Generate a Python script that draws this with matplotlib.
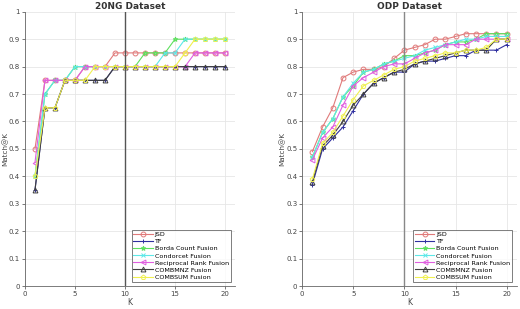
import numpy as np
from matplotlib import pyplot as plt

# K values shared by both panels
K = list(range(1, 21))

names = ['JSD', 'TF', 'Borda Count Fusion', 'Condorcet Fusion',
         'Reciprocal Rank Fusion', 'COMBMNZ Fusion', 'COMBSUM Fusion']
colors = ['#e07a7a', '#3030a0', '#5ee05e', '#5ee8e8', '#e05ee0', '#404040', '#f0f050']
markers = ['o', '+', '*', 'x', '<', '^', 'p']

# 20NG Dataset
ng_jsd = [0.5, 0.75, 0.75, 0.75, 0.75, 0.8, 0.8, 0.8, 0.85, 0.85, 0.85, 0.85, 0.85, 0.85, 0.85, 0.85, 0.85, 0.85, 0.85, 0.85]
ng_tf = [0.35, 0.65, 0.65, 0.75, 0.75, 0.75, 0.75, 0.75, 0.8, 0.8, 0.8, 0.8, 0.8, 0.8, 0.8, 0.8, 0.8, 0.8, 0.8, 0.8]
ng_borda = [0.4, 0.7, 0.75, 0.75, 0.8, 0.8, 0.8, 0.8, 0.8, 0.8, 0.8, 0.85, 0.85, 0.85, 0.9, 0.9, 0.9, 0.9, 0.9, 0.9]
ng_condorcet = [0.4, 0.7, 0.75, 0.75, 0.8, 0.8, 0.8, 0.8, 0.8, 0.8, 0.8, 0.8, 0.8, 0.85, 0.85, 0.9, 0.9, 0.9, 0.9, 0.9]
ng_rrf = [0.45, 0.75, 0.75, 0.75, 0.75, 0.8, 0.8, 0.8, 0.8, 0.8, 0.8, 0.8, 0.8, 0.8, 0.8, 0.8, 0.85, 0.85, 0.85, 0.85]
ng_combmnz = [0.35, 0.65, 0.65, 0.75, 0.75, 0.75, 0.75, 0.75, 0.8, 0.8, 0.8, 0.8, 0.8, 0.8, 0.8, 0.8, 0.8, 0.8, 0.8, 0.8]
ng_combsum = [0.4, 0.65, 0.65, 0.75, 0.75, 0.75, 0.8, 0.8, 0.8, 0.8, 0.8, 0.8, 0.8, 0.8, 0.8, 0.85, 0.9, 0.9, 0.9, 0.9]

# ODP Dataset
odp_jsd = [0.49, 0.58, 0.65, 0.76, 0.78, 0.79, 0.79, 0.80, 0.83, 0.86, 0.87, 0.88, 0.90, 0.90, 0.91, 0.92, 0.92, 0.92, 0.92, 0.92]
odp_tf = [0.37, 0.50, 0.54, 0.58, 0.64, 0.70, 0.74, 0.76, 0.78, 0.78, 0.81, 0.82, 0.82, 0.83, 0.84, 0.84, 0.86, 0.86, 0.86, 0.88]
odp_borda = [0.47, 0.56, 0.61, 0.69, 0.73, 0.78, 0.79, 0.81, 0.82, 0.84, 0.84, 0.85, 0.86, 0.88, 0.89, 0.89, 0.90, 0.92, 0.92, 0.92]
odp_condorcet = [0.47, 0.56, 0.61, 0.69, 0.74, 0.78, 0.79, 0.81, 0.82, 0.83, 0.84, 0.86, 0.87, 0.88, 0.89, 0.90, 0.90, 0.91, 0.91, 0.91]
odp_rrf = [0.46, 0.54, 0.58, 0.66, 0.73, 0.76, 0.78, 0.80, 0.81, 0.81, 0.83, 0.85, 0.86, 0.88, 0.88, 0.88, 0.90, 0.90, 0.90, 0.90]
odp_combmnz = [0.38, 0.51, 0.55, 0.60, 0.66, 0.70, 0.74, 0.76, 0.78, 0.79, 0.81, 0.82, 0.83, 0.84, 0.85, 0.86, 0.86, 0.86, 0.90, 0.90]
odp_combsum = [0.39, 0.52, 0.56, 0.62, 0.68, 0.73, 0.75, 0.77, 0.79, 0.80, 0.82, 0.83, 0.84, 0.85, 0.85, 0.86, 0.86, 0.87, 0.90, 0.90]

ng_series = [ng_jsd, ng_tf, ng_borda, ng_condorcet, ng_rrf, ng_combmnz, ng_combsum]
odp_series = [odp_jsd, odp_tf, odp_borda, odp_condorcet, odp_rrf, odp_combmnz, odp_combsum]

fig = plt.figure(figsize=(5.2, 3.09), dpi=100)
ax1 = fig.add_axes([0.048, 0.074, 0.404, 0.888])
ax2 = fig.add_axes([0.581, 0.074, 0.413, 0.888])

def drawPanel(ax, series, title, vcolor):
    for vals, name, c, m in zip(series, names, colors, markers):
        ax.plot(K, vals, color=c, marker=m, markersize=3.5, linewidth=0.8,
                markerfacecolor='none', markeredgewidth=0.7, label=name)
    ax.axvline(10, color=vcolor, linewidth=1.0)
    ax.set_xlim(0, 21)
    ax.set_ylim(0, 1)
    ax.set_xticks([0, 5, 10, 15, 20])
    ax.set_yticks(np.arange(0, 1.01, 0.1))
    ax.set_yticklabels(['0', '0.1', '0.2', '0.3', '0.4', '0.5', '0.6', '0.7', '0.8', '0.9', '1'])
    ax.grid(True, color='#e6e6e6', linewidth=0.6)
    ax.set_axisbelow(True)
    ax.tick_params(labelsize=5, colors='#444444', length=2, width=0.5, pad=1.5)
    for s in ['top', 'right']:
        ax.spines[s].set_visible(False)
    for s in ['left', 'bottom']:
        ax.spines[s].set_color('#666666')
        ax.spines[s].set_linewidth(0.6)
    ax.set_title(title, fontsize=6.5, fontweight='bold', pad=2, color='#333333')
    ax.set_xlabel('K', fontsize=5.5, labelpad=1, color='#444444')
    ax.set_ylabel('Match@K', fontsize=5.2, color='#444444')
    ax.yaxis.set_label_coords(-0.078, 0.5)
    leg = ax.legend(loc='lower right', fontsize=4.6, frameon=True, fancybox=False,
                    borderaxespad=0.7, handlelength=3, labelspacing=0.25,
                    borderpad=0.3, handletextpad=0.3)
    leg.get_frame().set_edgecolor('#444444')
    leg.get_frame().set_linewidth(0.6)

drawPanel(ax1, ng_series, '20NG Dataset', '#555555')
drawPanel(ax2, odp_series, 'ODP Dataset', '#888888')

plt.savefig('out.png', dpi=100)
